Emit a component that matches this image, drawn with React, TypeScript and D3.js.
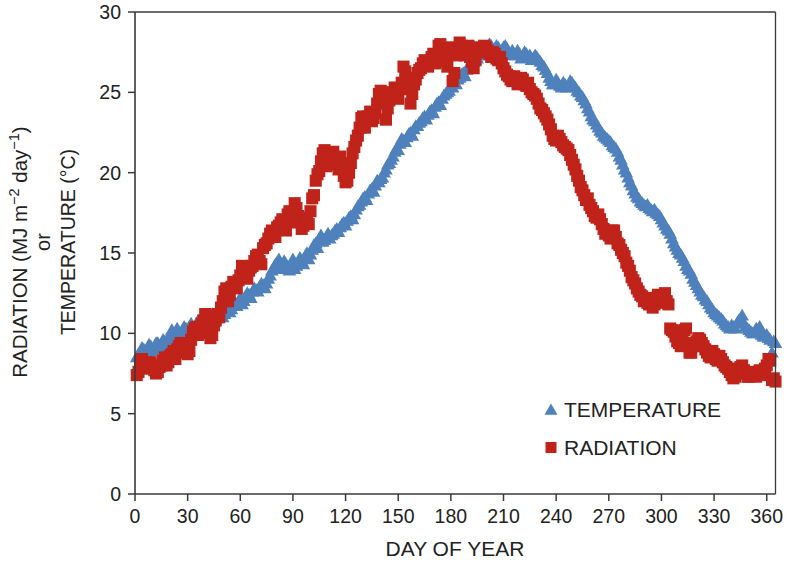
import React from "react";
import * as d3 from "d3";

// Daily temperature (°C), day 1..365
const TEMPERATURE: number[] = [
  8.5, 8.7, 8.8, 9.1, 9.0, 8.8, 8.9, 9.3, 9.2, 8.9,
  9.0, 9.4, 9.4, 9.1, 9.2, 9.6, 9.5, 9.3, 9.6, 9.9,
  10.2, 9.7, 9.9, 10.3, 10.1, 9.8, 10.0, 10.4, 10.3, 10.1,
  10.4, 10.6, 10.2, 10.4, 10.6, 10.8, 10.5, 10.3, 10.8, 10.9,
  10.6, 10.5, 10.9, 11.2, 10.7, 10.9, 11.1, 11.4, 11.3, 11.0,
  11.2, 11.5, 11.6, 11.3, 11.5, 11.8, 11.9, 11.7, 12.0, 12.2,
  11.8, 12.0, 12.3, 12.5, 12.4, 12.2, 12.6, 12.8, 12.7, 12.6,
  12.9, 13.1, 13.0, 12.8, 13.1, 13.4, 13.6, 13.9, 14.0, 14.3,
  14.4, 14.6, 14.2, 14.0, 14.5, 14.3, 14.1, 13.9, 14.3, 14.6,
  14.0, 14.2, 14.4, 14.7, 14.5, 14.3, 14.8, 15.0, 14.6, 14.9,
  15.2, 15.5, 15.6, 15.3, 15.9, 16.1, 15.7, 15.8, 16.0, 16.2,
  15.9, 16.1, 16.2, 16.4, 16.5, 16.3, 16.6, 16.8, 16.9, 16.7,
  17.0, 17.2, 17.3, 17.1, 17.4, 17.7, 17.9, 18.0, 18.2, 18.4,
  18.5, 18.3, 18.7, 18.9, 19.0, 18.8, 19.2, 19.5, 19.4, 19.6,
  19.7, 20.0, 20.2, 20.5, 20.6, 20.8, 21.0, 21.3, 21.5, 21.4,
  21.8, 22.1, 22.0, 21.9, 22.2, 22.4, 22.5, 22.3, 22.7, 22.9,
  22.9, 23.1, 23.2, 23.4, 23.5, 23.3, 23.6, 23.8, 23.9, 23.7,
  24.1, 24.3, 24.4, 24.2, 24.6, 24.8, 24.9, 25.0, 25.1, 25.4,
  25.3, 25.6, 25.5, 25.8, 25.9, 26.1, 26.2, 26.0, 26.4, 26.6,
  26.7, 26.5, 26.9, 27.0, 27.1, 27.3, 27.3, 27.5, 27.6, 27.4,
  27.8, 28.0, 27.9, 27.6, 27.7, 27.9, 27.8, 27.5, 27.6, 27.8,
  27.9, 27.7, 27.5, 27.3, 27.6, 27.4, 27.3, 27.6, 27.4, 27.1,
  27.2, 27.5, 27.4, 27.2, 27.3, 27.0, 27.1, 27.3, 27.2, 27.0,
  26.9, 26.7, 26.6, 26.4, 26.2, 25.9, 25.7, 25.5, 25.5, 25.8,
  25.6, 25.4, 25.3, 25.6, 25.5, 25.3, 25.4, 25.7, 25.6, 25.4,
  25.3, 25.1, 25.0, 24.8, 24.7, 24.5, 24.3, 24.0, 23.8, 23.5,
  23.3, 23.2, 23.0, 22.8, 22.6, 22.5, 22.3, 22.2, 22.1, 22.0,
  21.9, 21.7, 21.6, 21.5, 21.3, 21.0, 20.8, 20.5, 20.2, 20.0,
  19.7, 19.4, 19.2, 18.9, 18.7, 18.5, 18.4, 18.2, 18.1, 18.0,
  17.9, 18.0, 17.8, 17.7, 17.6, 17.7, 17.5, 17.4, 17.3, 17.1,
  16.9, 16.7, 16.5, 16.4, 16.2, 15.9, 15.6, 15.4, 15.2, 15.0,
  14.9, 14.7, 14.5, 14.2, 14.0, 13.9, 13.7, 13.4, 13.2, 13.0,
  12.8, 12.6, 12.4, 12.3, 12.1, 12.0, 11.8, 11.6, 11.5, 11.3,
  11.2, 11.1, 11.0, 10.9, 10.8, 10.6, 10.5, 10.4, 10.3, 10.5,
  10.4, 10.3, 10.6, 10.8, 10.9, 11.1, 10.6, 10.4, 10.3, 10.2,
  10.1, 10.0, 10.0, 10.3, 10.2, 10.4, 9.9, 9.8, 9.8, 9.9,
  9.7, 9.6, 8.8, 9.5, 9.4,
];

// Daily radiation (MJ m-2 day-1), day 1..365
const RADIATION: number[] = [
  7.4, 7.6, 8.3, 8.4, 8.1, 7.9, 7.8, 8.2, 8.2, 8.0,
  7.7, 7.5, 7.6, 7.9, 8.0, 8.3, 8.5, 8.0, 8.2, 8.6,
  8.7, 8.9, 8.4, 9.0, 9.2, 9.4, 8.8, 9.1, 9.0, 8.7,
  8.9, 9.6, 10.1, 10.3, 10.4, 9.9, 10.0, 10.6, 10.8, 11.2,
  11.0, 10.2, 9.7, 9.9, 10.5, 10.8, 11.2, 11.0, 11.6, 12.0,
  12.6, 12.8, 12.0, 12.4, 12.9, 13.2, 13.0, 12.8, 13.3, 13.6,
  14.2, 13.9, 13.6, 13.4, 13.9, 14.1, 14.2, 14.5, 14.8, 14.9,
  14.5, 14.3, 15.3, 15.5, 15.6, 15.9, 16.2, 16.4, 16.3, 16.0,
  16.6, 16.7, 16.9, 17.1, 16.6, 16.4, 17.4, 17.6, 16.9, 17.3,
  18.1, 17.8, 17.3, 17.1, 16.5, 16.7, 17.0, 17.2, 16.8, 17.6,
  18.4, 18.6, 19.5, 19.9, 20.1, 20.7, 21.2, 21.4, 20.4, 20.6,
  20.8, 21.1, 21.3, 20.9, 20.5, 20.2, 21.0, 20.4, 19.8, 19.4,
  19.5, 20.0, 20.6, 21.2, 21.6, 22.0, 22.3, 22.8, 23.4, 23.5,
  22.8, 23.3, 23.5, 23.8, 23.2, 23.4, 23.7, 24.3, 24.9, 25.1,
  25.0, 24.6, 23.3, 24.0, 24.5, 24.9, 25.0, 25.3, 24.8, 24.6,
  25.2, 25.6, 26.6, 26.3, 25.9, 25.2, 24.3, 24.9, 25.5, 25.8,
  26.2, 26.4, 26.5, 26.8, 27.0, 26.9, 26.6, 26.9, 27.2, 27.4,
  26.8, 27.1, 27.9, 28.0, 27.4, 27.0, 26.9, 26.6, 27.6, 27.8,
  25.7, 26.2, 27.3, 27.6, 28.1, 27.9, 27.5, 27.3, 27.8, 27.9,
  27.2, 26.9, 26.5, 27.0, 27.7, 27.8, 27.5, 27.7, 27.9, 27.8,
  27.6, 27.4, 27.2, 27.5, 27.4, 27.1, 27.0, 27.2, 26.8, 26.5,
  26.3, 26.1, 26.0, 25.8, 25.7, 26.0, 25.9, 25.5, 25.6, 25.9,
  25.8, 25.5, 25.4, 25.6, 25.2, 25.0, 24.9, 24.8, 24.6, 24.3,
  24.0, 23.9, 23.7, 23.5, 23.3, 23.0, 22.7, 22.3, 22.1, 22.0,
  22.3, 22.1, 21.9, 21.7, 21.6, 21.5, 21.4, 21.1, 20.8, 20.5,
  20.2, 19.8, 19.5, 19.1, 18.9, 18.6, 18.3, 18.4, 18.0, 17.8,
  17.6, 17.3, 17.2, 17.4, 17.1, 16.8, 16.5, 16.2, 16.3, 16.1,
  15.9, 16.4, 16.4, 16.0, 15.6, 15.5, 15.2, 15.0, 14.8, 14.4,
  14.2, 13.9, 13.5, 13.3, 13.1, 12.8, 12.6, 12.4, 12.3, 12.0,
  12.1, 11.9, 11.8, 12.2, 11.6, 11.8, 12.2, 12.4, 11.9, 12.1,
  12.3, 12.5, 12.0, 11.8, 10.3, 10.2, 10.1, 9.8, 9.5, 9.4,
  9.2, 9.8, 10.2, 10.3, 9.4, 8.8, 8.8, 9.2, 9.3, 9.5,
  9.7, 9.6, 9.4, 9.2, 9.0, 8.8, 8.6, 8.5, 8.9, 8.7,
  8.4, 8.3, 8.6, 8.4, 8.2, 8.0, 7.9, 7.8, 7.6, 7.4,
  7.2, 7.3, 7.6, 7.8, 7.9, 8.0, 7.7, 7.5, 7.3, 7.3,
  7.6, 7.5, 7.4, 7.3, 7.6, 7.7, 7.5, 7.4, 7.8, 8.0,
  8.4, 8.3, 7.1, 7.2, 7.0,
];

// Day of year of each observation
const DAYS: number[] = d3.range(1, TEMPERATURE.length + 1);

const X_TICKS: number[] = [0, 30, 60, 90, 120, 150, 180, 210, 240, 270, 300, 330, 360];
const Y_TICKS: number[] = [0, 5, 10, 15, 20, 25, 30];

const BLUE = "#4f81bd";
const RED = "#c0231a";
const FONT = "Liberation Sans, Arial, Helvetica, sans-serif";
const TEXT = "#222";

export default function App() {
  const W = 787;
  const H = 563;
  const left = 135;
  const right = 775.5;
  const top = 12;
  const bottom = 494;

  const x = d3.scaleLinear().domain([0, 365]).range([left, right]);
  const y = d3.scaleLinear().domain([0, 30]).range([bottom, top]);

  const tri = d3.symbol().type(d3.symbolTriangle).size(80)() as string;
  const sq = d3.symbol().type(d3.symbolSquare).size(146)() as string;
  const legendTri = d3.symbol().type(d3.symbolTriangle).size(74)() as string;
  const legendSq = d3.symbol().type(d3.symbolSquare).size(121)() as string;

  const axisColor = "#3a3a3a";

  return (
    <svg
      width={W}
      height={H}
      style={{ position: "absolute", left: 0, top: 0, background: "#fff" }}
      fontFamily={FONT}
    >
      <rect x={0} y={0} width={W} height={H} fill="#fff" />

      {/* Temperature */}
      <g fill={BLUE}>
        {TEMPERATURE.map((v, i) => (
          <path key={"t" + i} d={tri} transform={`translate(${x(DAYS[i])},${y(v) + 1})`} />
        ))}
      </g>
      {/* Radiation */}
      <g fill={RED}>
        {RADIATION.map((v, i) => (
          <path key={"r" + i} d={sq} transform={`translate(${x(DAYS[i])},${y(v)})`} />
        ))}
      </g>

      {/* Frame */}
      <line x1={left} x2={right} y1={top} y2={top} stroke={axisColor} strokeWidth={1.3} />
      <line x1={right} x2={right} y1={top} y2={bottom} stroke={axisColor} strokeWidth={1.3} />
      <line x1={left} x2={left} y1={top} y2={bottom} stroke={axisColor} strokeWidth={1.6} />
      <line x1={left} x2={right} y1={bottom} y2={bottom} stroke={axisColor} strokeWidth={1.6} />

      {/* Y ticks */}
      {Y_TICKS.map((t) => (
        <g key={"yt" + t}>
          <line x1={left - 7} x2={left} y1={y(t)} y2={y(t)} stroke={axisColor} strokeWidth={1.5} />
          <text x={left - 14} y={y(t)} dy="0.36em" textAnchor="end" fontSize={19.5} fill={TEXT}>
            {t}
          </text>
        </g>
      ))}

      {/* X ticks */}
      {X_TICKS.map((t) => (
        <g key={"xt" + t}>
          <line x1={x(t)} x2={x(t)} y1={bottom} y2={bottom + 7} stroke={axisColor} strokeWidth={1.5} />
          <text x={x(t)} y={523} textAnchor="middle" fontSize={19.5} fill={TEXT}>
            {t}
          </text>
        </g>
      ))}

      {/* Axis titles */}
      <text x={455} y={556} textAnchor="middle" fontSize={21} fill={TEXT}>
        DAY OF YEAR
      </text>
      <text transform="translate(27,252) rotate(-90)" textAnchor="middle" fontSize={20.5} fill={TEXT}>
        RADIATION (MJ m
        <tspan dy={-8} fontSize={14.5}>−2</tspan>
        <tspan dy={8}> day</tspan>
        <tspan dy={-8} fontSize={14.5}>−1</tspan>
        <tspan dy={8}>)</tspan>
      </text>
      <text transform="translate(50,242) rotate(-90)" textAnchor="middle" fontSize={20} fill={TEXT}>
        or
      </text>
      <text transform="translate(75,242) rotate(-90)" textAnchor="middle" fontSize={19.5} fill={TEXT}>
        TEMPERATURE (°C)
      </text>

      {/* Legend */}
      <path d={legendTri} fill={BLUE} transform="translate(551,411)" />
      <text x={564} y={416.5} fontSize={21} fill={TEXT}>
        TEMPERATURE
      </text>
      <path d={legendSq} fill={RED} transform="translate(551,447.5)" />
      <text x={564} y={455} fontSize={21} fill={TEXT}>
        RADIATION
      </text>
    </svg>
  );
}
